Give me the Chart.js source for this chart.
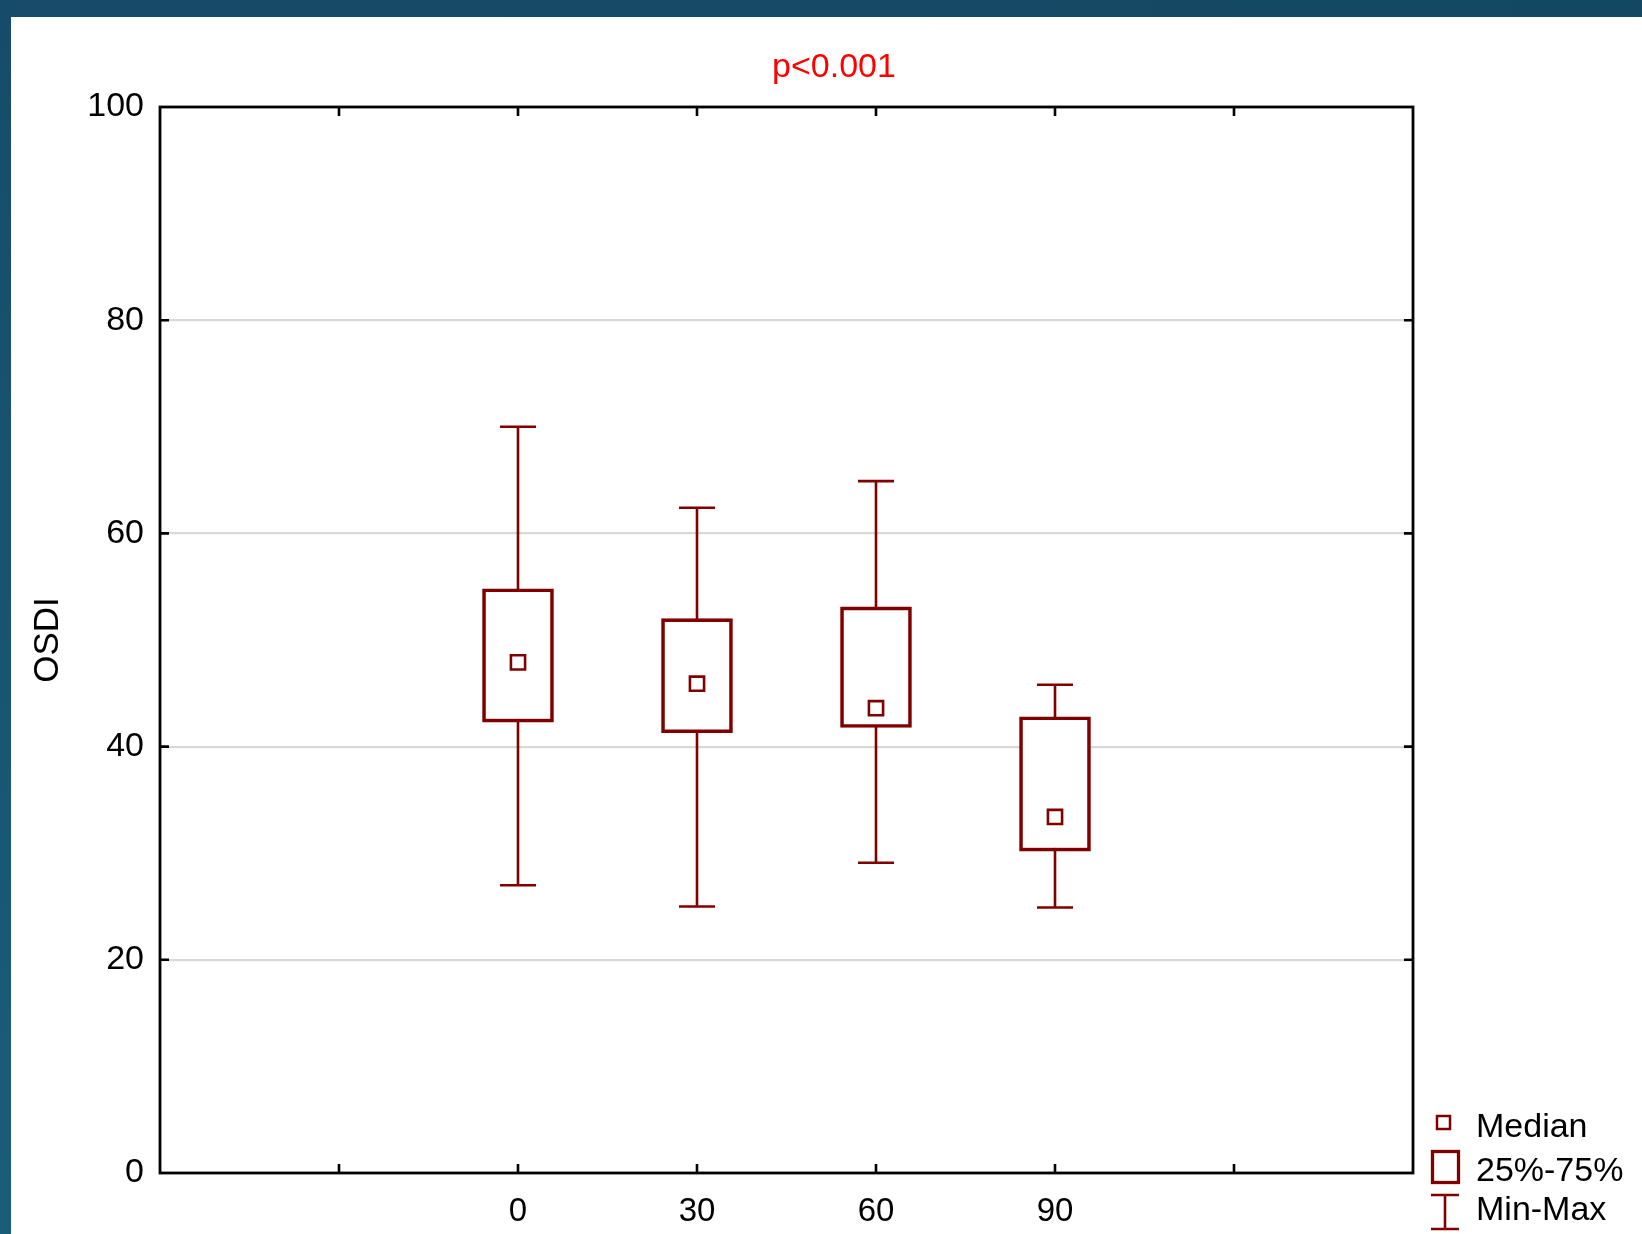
<!DOCTYPE html>
<html>
<head>
<meta charset="utf-8">
<script src="https://cdn.jsdelivr.net/npm/chart.js@4"></script>
<style>
  html, body { margin: 0; padding: 0; background: #fff; }
  #wrap { position: relative; width: 1642px; height: 1234px; overflow: hidden; }
  #topbar { position: absolute; left: 0; top: 0; width: 1642px; height: 17px;
            background: linear-gradient(to right, #164c69, #134862); }
  #leftbar { position: absolute; left: 0; top: 0; width: 11px; height: 1234px;
             background: linear-gradient(to bottom, #164c69, #1a5d79); }
  canvas { position: absolute; left: 0; top: 0; }
</style>
</head>
<body>
<div id="wrap">
  <canvas id="myChart" width="1642" height="1234"></canvas>
  <div id="topbar"></div>
  <div id="leftbar"></div>
</div>
<script>
// box plot values (OSDI by day)
var groups = ['0', '30', '60', '90'];
var minVals = [27, 25, 29.1, 24.9];
var q1Vals = [42.3, 41.3, 41.8, 30.2];
var medians = [47.9, 45.9, 43.6, 33.4];
var q3Vals = [54.8, 52.0, 53.1, 42.8];
var maxVals = [70, 62.4, 64.9, 45.8];
var yTicks = [0, 20, 40, 60, 80, 100];

var RED = '#800000';
var FONT = "'Liberation Sans', Arial, sans-serif";

// whiskers go under the boxes, frame + inner ticks + legend on top
var boxExtras = {
  id: 'boxExtras',
  beforeDatasetsDraw: function(chart) {
    var ctx = chart.ctx, x = chart.scales.x, y = chart.scales.y;
    ctx.save();
    ctx.strokeStyle = RED;
    ctx.lineWidth = 2.6;
    for (var i = 0; i < groups.length; i++) {
      var px = x.getPixelForValue(i);
      var top = y.getPixelForValue(maxVals[i]);
      var bot = y.getPixelForValue(minVals[i]);
      ctx.beginPath();
      ctx.moveTo(px, top); ctx.lineTo(px, bot);
      ctx.moveTo(px - 18, top); ctx.lineTo(px + 18, top);
      ctx.moveTo(px - 18, bot); ctx.lineTo(px + 18, bot);
      ctx.stroke();
    }
    ctx.restore();
  },
  afterDraw: function(chart) {
    var ctx = chart.ctx, a = chart.chartArea, x = chart.scales.x, y = chart.scales.y;
    ctx.save();
    // frame
    ctx.strokeStyle = '#000';
    ctx.lineWidth = 2.8;
    ctx.strokeRect(a.left, a.top, a.right - a.left, a.bottom - a.top);
    // inner ticks
    ctx.lineWidth = 2.6;
    ctx.beginPath();
    for (var k = -1; k <= 4; k++) {
      var tx = x.getPixelForValue(k);
      ctx.moveTo(tx, a.top); ctx.lineTo(tx, a.top + 9);
      ctx.moveTo(tx, a.bottom); ctx.lineTo(tx, a.bottom - 9);
    }
    yTicks.forEach(function(v) {
      if (v === 0 || v === 100) return;
      var ty = y.getPixelForValue(v);
      ctx.moveTo(a.left, ty); ctx.lineTo(a.left + 9, ty);
      ctx.moveTo(a.right, ty); ctx.lineTo(a.right - 9, ty);
    });
    ctx.stroke();

    // title
    ctx.fillStyle = '#ff0000';
    ctx.font = '34px ' + FONT;
    ctx.textAlign = 'center';
    ctx.textBaseline = 'alphabetic';
    ctx.fillText('p<0.001', 834, 77);

    // legend
    ctx.strokeStyle = RED;
    ctx.lineWidth = 2.5;
    ctx.strokeRect(1437, 1116, 13, 13);
    ctx.lineWidth = 3.3;
    ctx.strokeRect(1432.5, 1151.5, 26, 31);
    ctx.lineWidth = 2.6;
    ctx.beginPath();
    ctx.moveTo(1431, 1195); ctx.lineTo(1459, 1195);
    ctx.moveTo(1445, 1195); ctx.lineTo(1445, 1229);
    ctx.moveTo(1431, 1229); ctx.lineTo(1459, 1229);
    ctx.stroke();
    ctx.fillStyle = '#000';
    ctx.font = '34px ' + FONT;
    ctx.textAlign = 'left';
    ctx.fillText('Median', 1476, 1137);
    ctx.fillText('25%-75%', 1476, 1181);
    ctx.fillText('Min-Max', 1476, 1220);
    ctx.restore();
  }
};

var ctx = document.getElementById('myChart').getContext('2d');

var myChart = new Chart(ctx, {
  type: 'bar',
  data: {
    datasets: [
      {
        type: 'scatter',
        label: 'Median',
        data: medians.map(function(m, i) { return { x: i, y: m }; }),
        pointStyle: 'rect',
        pointRadius: 10,
        pointBackgroundColor: '#fff',
        pointBorderColor: RED,
        pointBorderWidth: 2.6,
        order: 0
      },
      {
        label: '25%-75%',
        data: q1Vals.map(function(q, i) { return { x: i, y: [q, q3Vals[i]] }; }),
        backgroundColor: '#fff',
        borderColor: RED,
        borderWidth: 3.6,
        borderSkipped: false,
        barThickness: 71,
        order: 1
      }
    ]
  },
  options: {
    responsive: false,
    animation: false,
    layout: { padding: { top: 107, right: 229, bottom: 0, left: 0 } },
    plugins: {
      legend: { display: false },
      tooltip: { enabled: false },
      title: { display: false }
    },
    scales: {
      x: {
        type: 'linear',
        min: -2,
        max: 5,
        offset: false,
        grid: { display: false, drawTicks: false },
        border: { display: false },
        afterFit: function(scale) { scale.height = 61; },
        afterBuildTicks: function(scale) {
          scale.ticks = [-2, -1, 0, 1, 2, 3, 4, 5].map(function(v) { return { value: v }; });
        },
        ticks: {
          autoSkip: false,
          maxRotation: 0,
          padding: 19,
          color: '#000',
          font: { family: FONT, size: 33 },
          callback: function(v) { return groups[v] !== undefined ? groups[v] : ''; }
        }
      },
      y: {
        min: 0,
        max: 100,
        afterFit: function(scale) { scale.width = 160; },
        afterBuildTicks: function(scale) {
          scale.ticks = yTicks.map(function(v) { return { value: v }; });
        },
        grid: {
          drawTicks: false,
          lineWidth: 2.2,
          color: function(c) {
            return (c.tick && (c.tick.value === 0 || c.tick.value === 100)) ? 'rgba(0,0,0,0)' : '#d8d8d8';
          }
        },
        border: { display: false },
        ticks: {
          padding: 16,
          color: '#000',
          font: { family: FONT, size: 34 }
        },
        title: {
          display: true,
          text: 'OSDI',
          color: '#000',
          font: { family: FONT, size: 35 },
          padding: { top: 27, bottom: 0 }
        }
      }
    }
  },
  plugins: [boxExtras]
});
</script>
</body>
</html>
